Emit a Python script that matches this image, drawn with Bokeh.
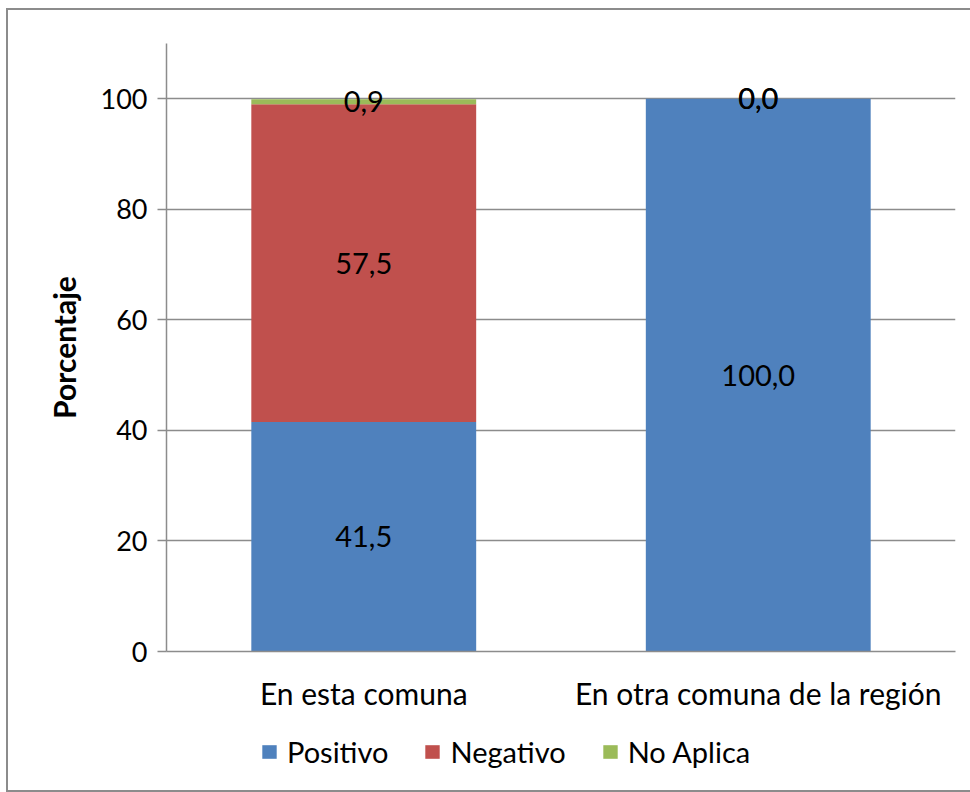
from bokeh.plotting import figure
from bokeh.models import FactorRange, ColumnDataSource, FixedTicker, Legend, LegendItem, Range1d
from bokeh.layouts import column
from bokeh.core.properties import value
from bokeh.embed import file_html
from bokeh.resources import INLINE

categories = ["En esta comuna", "En otra comuna de la región"]
series_names = ["Positivo", "Negativo", "No Aplica"]
positivo = [41.5, 100.0]
negativo = [57.5, 0.0]
no_aplica = [0.9, 0.0]
y_ticks = [0, 20, 40, 60, 80, 100]
colors = ["#4F81BD", "#C0504D", "#9BBB59"]

FONT = "Lato"

p = figure(x_range=FactorRange(*categories), y_range=Range1d(0, 110),
           width=962, height=713, output_backend="svg", toolbar_location=None,
           min_border_left=158, min_border_right=15, min_border_top=33, min_border_bottom=72,
           frame_width=789, frame_height=608)
p.outline_line_color = None

src = ColumnDataSource(dict(cat=categories, Positivo=positivo, Negativo=negativo, NoAplica=no_aplica))
stack_cols = ["Positivo", "Negativo", "NoAplica"]
rs = p.vbar_stack(stack_cols, x="cat", width=0.57, color=colors, line_color=None, source=src)

# labels
lab_x, lab_y, lab_t = [], [], []
for i, c in enumerate(categories):
    base = 0.0
    for vals in (positivo, negativo, no_aplica):
        v = vals[i]
        lab_x.append(c)
        lab_y.append(base + v / 2)
        lab_t.append(f"{v:.1f}".replace(".", ","))
        base += v
p.text(x=lab_x, y=lab_y, text=lab_t, text_align="center", text_baseline="middle",
       text_font=value(FONT), text_font_size="29px", text_color="black")

p.xgrid.grid_line_color = None
p.ygrid.grid_line_color = "#8c8c8c"
p.ygrid.grid_line_width = 1.5
p.yaxis.ticker = FixedTicker(ticks=y_ticks)
p.yaxis.minor_tick_line_color = None
p.yaxis.major_tick_in = 0
p.yaxis.major_tick_out = 9
p.yaxis.major_tick_line_color = "#8c8c8c"
p.yaxis.major_tick_line_width = 1.5
p.yaxis.axis_line_color = "#8c8c8c"
p.yaxis.axis_line_width = 1.5
p.yaxis.major_label_text_font = FONT
p.yaxis.major_label_text_font_size = "27px"
p.yaxis.major_label_text_color = "black"
p.yaxis.major_label_standoff = 10
p.yaxis.axis_label = "Porcentaje"
p.yaxis.axis_label_text_font = FONT
p.yaxis.axis_label_text_font_size = "30px"
p.yaxis.axis_label_text_font_style = "bold"
p.yaxis.axis_label_text_color = "black"
p.yaxis.axis_label_standoff = 16

p.xaxis.major_tick_line_color = None
p.xaxis.minor_tick_line_color = None
p.xaxis.axis_line_color = "#8c8c8c"
p.xaxis.axis_line_width = 1.5
p.xaxis.major_label_text_font = FONT
p.xaxis.major_label_text_font_size = "30px"
p.xaxis.major_label_text_color = "black"
p.xaxis.major_label_standoff = 17

# legend strip below the chart (same stacked data, drawn out of its visible range)
lg = figure(width=962, height=67, output_backend="svg", toolbar_location=None,
            x_axis_type=None, y_axis_type=None, x_range=FactorRange(*categories),
            y_range=Range1d(200, 201), min_border=0)
lg.outline_line_color = None
lg.xgrid.grid_line_color = None
lg.ygrid.grid_line_color = None
swatches = lg.vbar_stack(stack_cols, x="cat", width=0.57, color=colors, line_color=None, source=src)
legend = Legend(items=[LegendItem(label=n, renderers=[r]) for n, r in zip(series_names, swatches)],
                orientation="horizontal", location=(94, 21),
                label_text_font=FONT, label_text_font_size="29px", label_text_color="black",
                glyph_width=18, glyph_height=17, label_standoff=9, spacing=35,
                border_line_color=None, background_fill_alpha=0, padding=0, margin=0)
lg.add_layout(legend, "center")

layout = column(p, lg, spacing=0)
layout.styles = {"border": "2px solid #8c8c8c", "margin-left": "6px", "margin-top": "8px"}

open("out.html", "w").write(file_html(layout, INLINE))
